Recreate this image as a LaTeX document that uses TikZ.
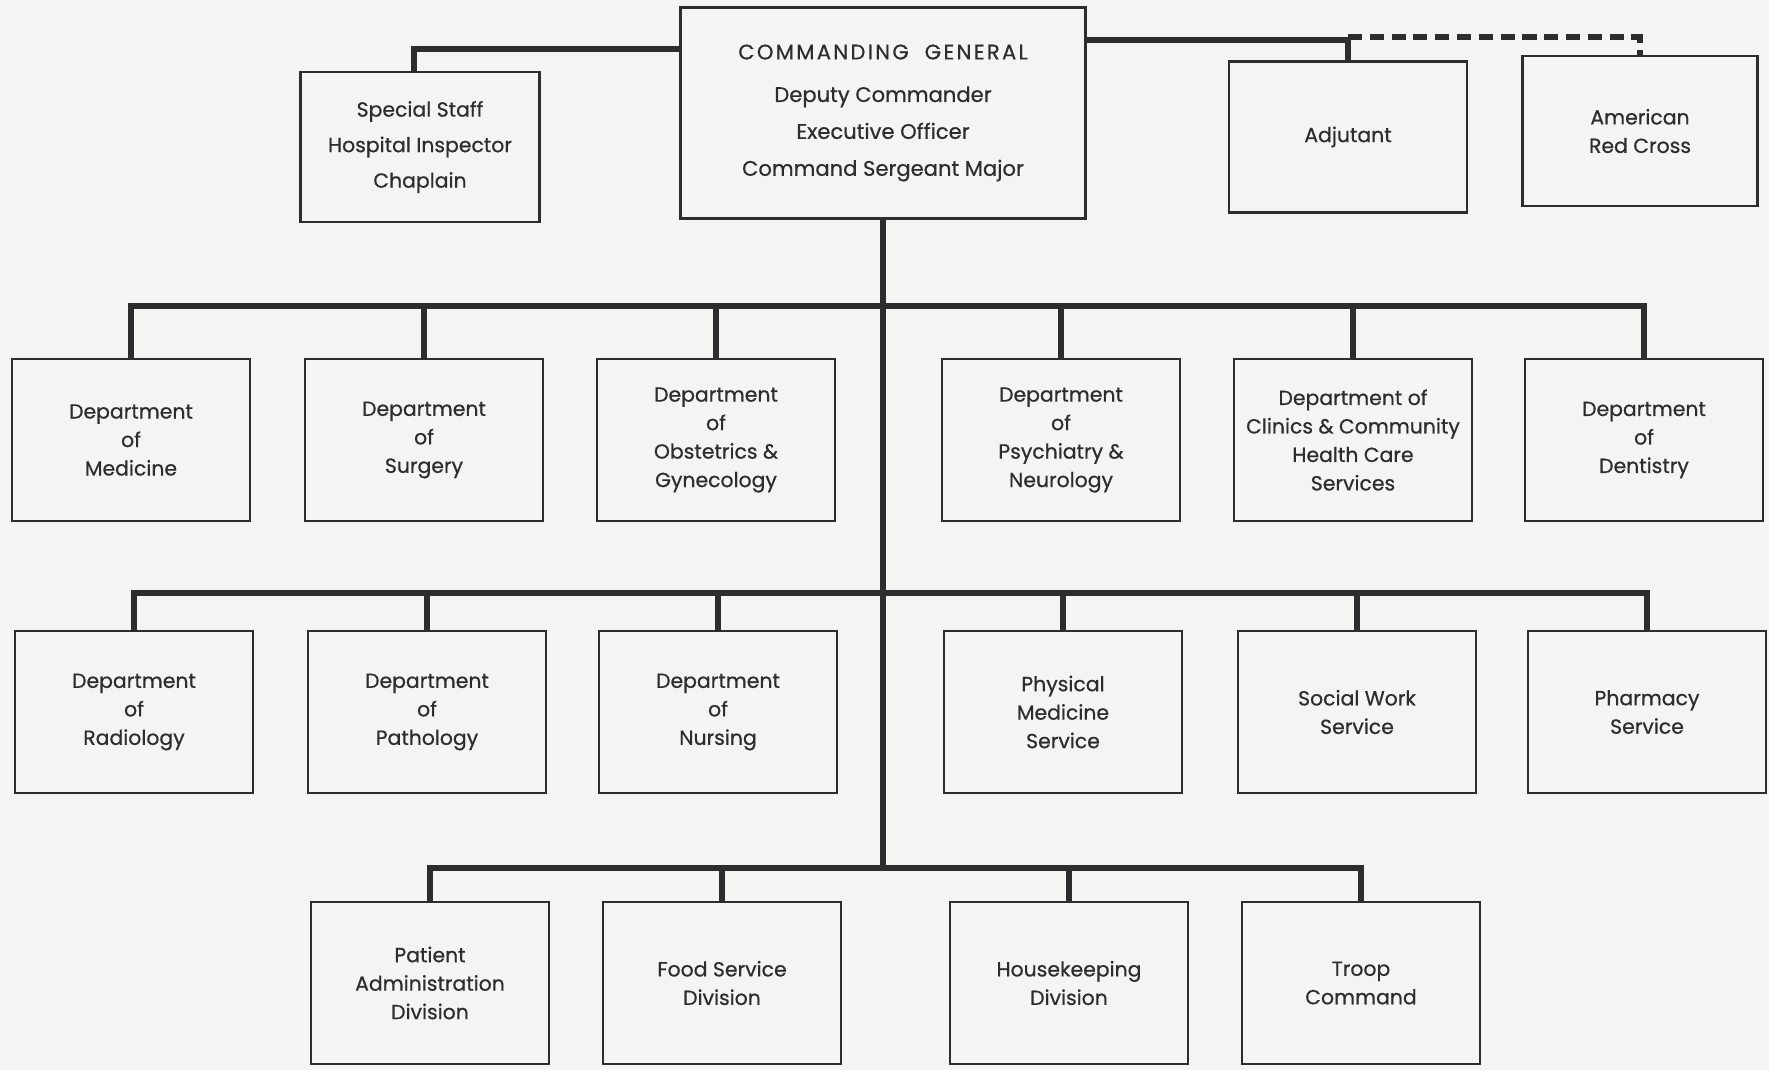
\documentclass[tikz,border=0pt]{standalone}
\usepackage{fontspec}
\setmainfont{Poppins}[FakeBold=0.6]
\begin{document}
\begin{tikzpicture}[x=0.01cm,y=-0.01cm,font=\fontsize{5.8}{8.1}\selectfont]
  \definecolor{paper}{RGB}{244,244,242}
  \definecolor{ink}{RGB}{45,45,45}
  \tikzset{
    blk/.style={draw=ink,line width=0.8pt,text=ink,align=center,inner sep=1pt,
                minimum width=2.38cm,minimum height=1.62cm},
    hdr/.style={blk,minimum height=1.48cm},
    ln/.style={draw=ink,line width=1.8pt},
    dsh/.style={ln,dash pattern=on 4pt off 2.2pt}
  }
  \path[use as bounding box,fill=paper] (0,0) rectangle (1769,1070);

  % top row
  \node[blk,minimum width=4.04cm,minimum height=2.11cm,font=\fontsize{6}{8.1}\selectfont] (cg) at (883,113)
    {{\addfontfeature{LetterSpace=11}COMMANDING\ \ GENERAL}\\[4pt]Deputy Commander\\[2.4pt]Executive Officer\\[2.4pt]Command Sergeant Major};
  \node[hdr,minimum width=2.39cm,minimum height=1.5cm] (ss) at (420,147)
    {Special Staff\\[2pt]Hospital Inspector\\[2pt]Chaplain};
  \node[hdr,minimum height=1.51cm] (adj) at (1348,137) {Adjutant};
  \node[hdr,minimum width=2.35cm,minimum height=1.5cm] (arc) at (1640,131) {American\\Red Cross};

  % departments
  \node[blk] (med)   at (131,440)  {Department\\of\\Medicine};
  \node[blk] (surg)  at (424,440)  {Department\\of\\Surgery};
  \node[blk] (obgyn) at (716,440)  {Department\\of\\Obstetrics \&\\Gynecology};
  \node[blk] (psy)   at (1061,440) {Department\\of\\Psychiatry \&\\Neurology};
  \node[blk] (clin)  at (1353,440) {Department of\\Clinics \& Community\\Health Care\\Services};
  \node[blk] (dent)  at (1644,440) {Department\\of\\Dentistry};

  \node[blk] (rad)   at (134,712)  {Department\\of\\Radiology};
  \node[blk] (patho) at (427,712)  {Department\\of\\Pathology};
  \node[blk] (nurs)  at (718,712)  {Department\\of\\Nursing};
  \node[blk] (pmed)  at (1063,712) {Physical\\Medicine\\Service};
  \node[blk] (sw)    at (1357,712) {Social Work\\Service};
  \node[blk] (pharm) at (1647,712) {Pharmacy\\Service};

  % divisions
  \node[blk] (pad)   at (430,983)  {Patient\\Administration\\Division};
  \node[blk] (food)  at (722,983)  {Food Service\\Division};
  \node[blk] (hk)    at (1069,983) {Housekeeping\\Division};
  \node[blk] (troop) at (1361,983) {Troop\\Command};

  % bus junctions
  \coordinate (jl) at (681,49);
  \coordinate (jr) at (1085,40);
  \coordinate (b2) at (883,306);
  \coordinate (b3) at (883,593);
  \coordinate (b4) at (883,868);

  \draw[ln] (ss.north) ++(-6,0) |- (jl);
  \draw[ln] (jr) -| (adj.north);
  \draw[dsh] (adj.north |- jr) ++(0,-3) -| (arc.north);
  \draw[ln] (cg.south) -- (b4);

  \draw[ln] (med.north) |- (b2) -| (dent.north);
  \foreach \n in {surg,obgyn,psy,clin}
    \draw[ln] (\n.north) -- (\n.north |- b2);
  \draw[ln] (rad.north) |- (b3) -| (pharm.north);
  \foreach \n in {patho,nurs,pmed,sw}
    \draw[ln] (\n.north) -- (\n.north |- b3);
  \draw[ln] (pad.north) |- (b4) -| (troop.north);
  \foreach \n in {food,hk}
    \draw[ln] (\n.north) -- (\n.north |- b4);
\end{tikzpicture}
\end{document}
